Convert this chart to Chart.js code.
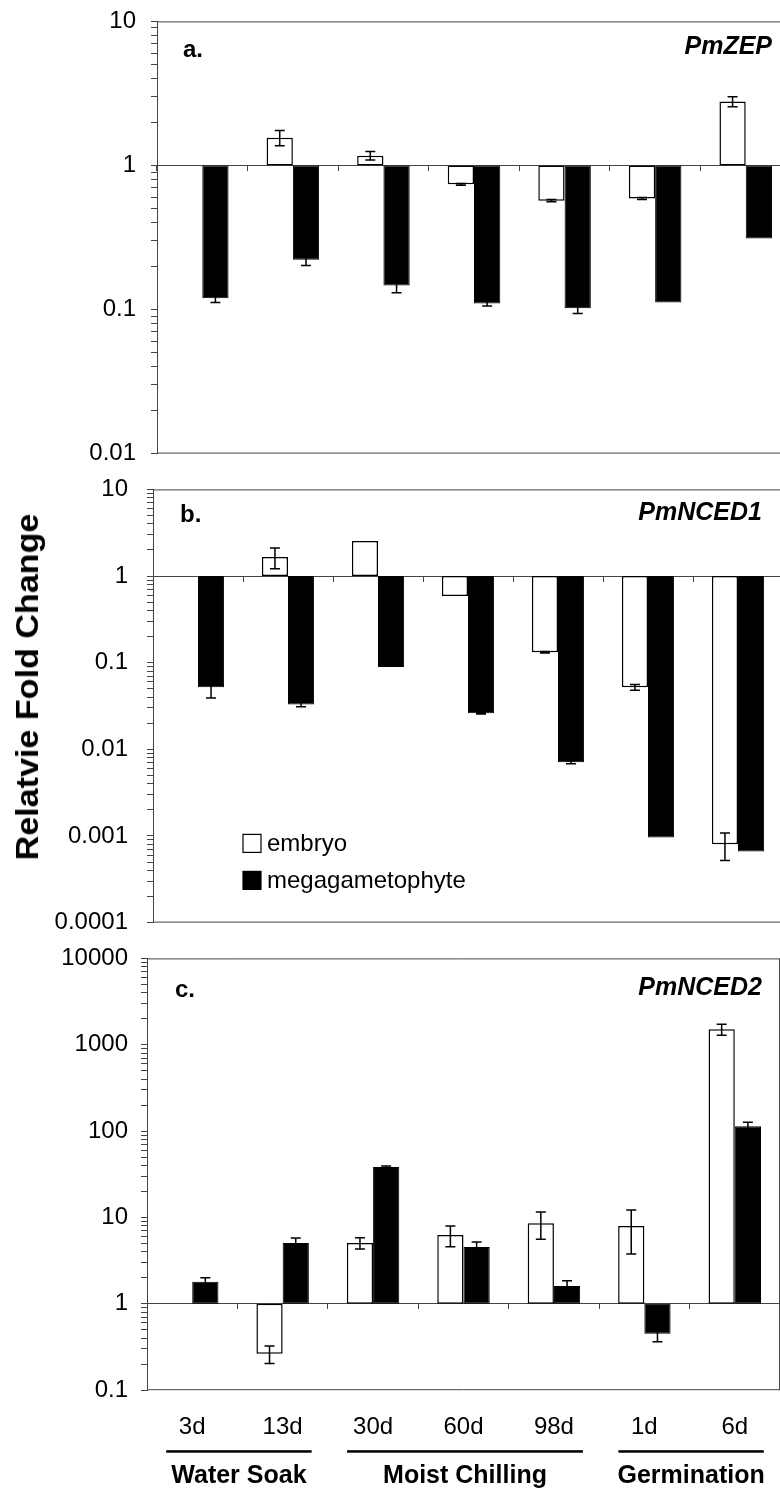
<!DOCTYPE html>
<html>
<head>
<meta charset="utf-8">
<script src="https://cdn.jsdelivr.net/npm/chart.js@4.4.0/dist/chart.umd.min.js"></script>
<style>
  html, body { margin: 0; padding: 0; background: #fff; overflow: hidden; }
  body { width: 780px; height: 1491px; position: relative; }
  canvas { position: absolute; left: 0; }
  #ytitle {
    position: absolute; left: 28px; top: 687px; white-space: nowrap; color: #000;
    font: bold 31px "Liberation Sans", Arial, sans-serif;
    transform: translate(-50%, -50%) rotate(-90deg) scaleX(1.1);
  }
</style>
</head>
<body>
<canvas id="zepChart" width="800" height="491" style="top:-8px"></canvas>
<canvas id="nced1Chart" width="800" height="500" style="top:456px"></canvas>
<canvas id="nced2Chart" width="790" height="560" style="top:931px"></canvas>
<div id="ytitle">Relatvie Fold Change</div>
<script>
const categories = ['3d', '13d', '30d', '60d', '98d', '1d', '6d'];
const groupNames = ['Water Soak', 'Moist Chilling', 'Germination'];
const groupFirst = [0, 2, 5];
const groupLast = [1, 4, 6];

// major ticks of each panel (decades)
const zepTicks = [0.01, 0.1, 1, 10];
const nced1Ticks = [0.0001, 0.001, 0.01, 0.1, 1, 10];
const nced2Ticks = [0.1, 1, 10, 100, 1000, 10000];

// a. PmZEP
const zepEmbryo = [1.0, 1.56, 1.17, 0.74, 0.57, 0.59, 2.78];
const zepEmbryoErr = [0, 0.19, 0.08, 0.01, 0.01, 0.01, 0.22];
const zepMega = [0.12, 0.222, 0.147, 0.110, 0.102, 0.112, 0.311];
const zepMegaErr = [0.008, 0.02, 0.016, 0.004, 0.008, 0, 0];

// b. PmNCED1
const nced1Embryo = [1.0, 1.66, 2.54, 0.587, 0.132, 0.052, 0.0008];
const nced1EmbryoErr = [0, 0.45, 0, 0, 0.003, 0.004, 0.00028];
const nced1Mega = [0.052, 0.033, 0.089, 0.026, 0.0071, 0.00096, 0.00066];
const nced1MegaErr = [0.013, 0.002, 0, 0.0005, 0.0003, 0, 0];

// c. PmNCED2
const nced2Embryo = [1.0, 0.264, 5.07, 6.28, 8.6, 7.98, 1510];
const nced2EmbryoErr = [0, 0.06, 0.75, 1.7, 3.0, 4.2, 220];
const nced2Mega = [1.8, 5.07, 38.4, 4.56, 1.61, 0.45, 114];
const nced2MegaErr = [0.2, 0.7, 1.0, 0.65, 0.24, 0.085, 13];

const fontFamily = '"Liberation Sans", Arial, sans-serif';
const axisColor = '#444';

const errorBars = {
  id: 'errorBars',
  afterDatasetsDraw(chart) {
    const ctx = chart.ctx;
    const y = chart.scales.y;
    ctx.save();
    ctx.strokeStyle = '#000';
    ctx.lineWidth = 1.5;
    chart.data.datasets.forEach((ds, i) => {
      const meta = chart.getDatasetMeta(i);
      meta.data.forEach((bar, j) => {
        const err = ds.errors[j];
        if (!err) return;
        const v = ds.data[j][1];
        const yTop = y.getPixelForValue(v + err);
        const yBot = y.getPixelForValue(v - err);
        ctx.beginPath();
        ctx.moveTo(bar.x, yTop); ctx.lineTo(bar.x, yBot);
        ctx.moveTo(bar.x - 5, yTop); ctx.lineTo(bar.x + 5, yTop);
        ctx.moveTo(bar.x - 5, yBot); ctx.lineTo(bar.x + 5, yBot);
        ctx.stroke();
      });
    });
    ctx.restore();
  }
};

const frame = {
  id: 'frame',
  afterDraw(chart, args, opts) {
    const ctx = chart.ctx, a = chart.chartArea;
    ctx.save();
    ctx.strokeStyle = axisColor;
    ctx.lineWidth = 1;
    ctx.beginPath();
    ctx.moveTo(a.left, a.top + 0.5); ctx.lineTo(a.right, a.top + 0.5);
    ctx.moveTo(a.left, a.bottom - 0.5); ctx.lineTo(a.right, a.bottom - 0.5);
    if (opts.right) { ctx.moveTo(a.right - 0.5, a.top); ctx.lineTo(a.right - 0.5, a.bottom); }
    ctx.stroke();
    ctx.restore();
  }
};

const panelText = {
  id: 'panelText',
  afterDraw(chart, args, opts) {
    const ctx = chart.ctx, a = chart.chartArea;
    ctx.save();
    ctx.fillStyle = '#000';
    ctx.textBaseline = 'middle';
    ctx.font = 'bold 24px ' + fontFamily;
    ctx.textAlign = 'left';
    ctx.fillText(opts.letter, a.left + opts.letterDx, a.top + opts.letterDy);
    ctx.font = 'italic bold 25px ' + fontFamily;
    ctx.textAlign = 'right';
    ctx.fillText(opts.gene, a.right - opts.geneDx, a.top + opts.geneDy);
    ctx.restore();
  }
};

const boxLegend = {
  id: 'boxLegend',
  afterDraw(chart, args, opts) {
    if (!opts.show) return;
    const ctx = chart.ctx, a = chart.chartArea;
    ctx.save();
    ctx.font = '24px ' + fontFamily;
    ctx.textBaseline = 'middle';
    ctx.textAlign = 'left';
    chart.data.datasets.forEach((ds, i) => {
      const x = a.left + opts.dx;
      const y = a.top + opts.dy + i * opts.rowGap;
      ctx.fillStyle = ds.backgroundColor;
      ctx.fillRect(x, y - 9, 18, 18);
      ctx.strokeStyle = '#000';
      ctx.lineWidth = 1.2;
      ctx.strokeRect(x, y - 9, 18, 18);
      ctx.fillStyle = '#000';
      ctx.fillText(ds.label, x + 24, y + 1);
    });
    ctx.restore();
  }
};

const groups = {
  id: 'groups',
  afterDraw(chart, args, opts) {
    if (!opts.show) return;
    const ctx = chart.ctx, a = chart.chartArea, x = chart.scales.x;
    ctx.save();
    ctx.fillStyle = '#000';
    ctx.font = 'bold 25px ' + fontFamily;
    ctx.textAlign = 'center';
    ctx.textBaseline = 'middle';
    groupNames.forEach((name, g) => {
      const x0 = x.getPixelForValue(groupFirst[g]) - 26;
      const x1 = x.getPixelForValue(groupLast[g]) + 29;
      ctx.fillRect(x0, a.bottom + 60, x1 - x0, 2.5);
      ctx.fillText(name, (x0 + x1) / 2, a.bottom + 86);
    });
    ctx.restore();
  }
};

function makeChart(id, cfg) {
  const ctx = document.getElementById(id).getContext('2d');
  const scales = {
    x: {
      type: 'category',
      position: { y: 1 },
      offset: true,
      grid: { offset: true, drawOnChartArea: false, tickLength: 5, color: axisColor },
      border: { display: true, color: axisColor, width: 1 },
      ticks: { display: false }
    },
    y: {
      type: 'logarithmic',
      min: cfg.ticks[0],
      max: cfg.ticks[cfg.ticks.length - 1],
      afterBuildTicks(scale) {
        const out = [];
        cfg.ticks.forEach((m, i) => {
          out.push({ value: m });
          if (i < cfg.ticks.length - 1) {
            for (let k = 2; k < 10; k++) out.push({ value: m * k });
          }
        });
        scale.ticks = out;
      },
      afterFit(scale) { scale.width = cfg.axisWidth; },
      ticks: {
        autoSkip: false,
        padding: cfg.labelPad,
        color: '#000',
        font: { family: fontFamily, size: 24 },
        callback: (v) => cfg.ticks.includes(v) ? String(v) : ''
      },
      grid: { drawOnChartArea: false, tickLength: 6, color: axisColor },
      border: { display: true, color: axisColor, width: 1 }
    }
  };
  if (cfg.bottomLabels) {
    scales.x2 = {
      type: 'category',
      labels: categories,
      position: 'bottom',
      offset: true,
      grid: { display: false, drawTicks: false, tickLength: 0 },
      border: { display: false },
      ticks: { padding: 23, autoSkip: false, maxRotation: 0, color: '#000', font: { family: fontFamily, size: 24 } }
    };
  }
  return new Chart(ctx, {
    type: 'bar',
    data: {
      labels: categories,
      datasets: [
        {
          label: 'embryo',
          data: cfg.embryo.map(v => [1, v]),
          errors: cfg.embryoErr,
          backgroundColor: '#fff',
          borderColor: '#000',
          borderWidth: 1.5,
          borderSkipped: false,
          categoryPercentage: 0.58,
          barPercentage: 1
        },
        {
          label: 'megagametophyte',
          data: cfg.mega.map(v => [1, v]),
          errors: cfg.megaErr,
          backgroundColor: '#000',
          borderColor: '#000',
          borderWidth: 1,
          borderSkipped: false,
          categoryPercentage: 0.58,
          barPercentage: 1
        }
      ]
    },
    options: {
      responsive: false,
      animation: false,
      devicePixelRatio: 1,
      layout: { padding: cfg.padding },
      scales: scales,
      plugins: {
        legend: { display: false },
        tooltip: { enabled: false },
        frame: { right: !!cfg.rightBorder },
        panelText: cfg.text,
        boxLegend: { show: !!cfg.legend, dx: 90, dy: 354, rowGap: 37 },
        groups: { show: !!cfg.bottomLabels }
      }
    },
    plugins: [errorBars, frame, panelText, boxLegend, groups]
  });
}

// top/bottom of each plot area is set by the y tick label half height + tick padding
makeChart('zepChart', {
  ticks: zepTicks, embryo: zepEmbryo, embryoErr: zepEmbryoErr, mega: zepMega, megaErr: zepMegaErr,
  axisWidth: 157, labelPad: 15,
  padding: { top: 0, bottom: 0, left: 0, right: 9 },
  text: { letter: 'a.', gene: 'PmZEP', letterDx: 26, letterDy: 29, geneDx: 19, geneDy: 26 }
});

makeChart('nced1Chart', {
  ticks: nced1Ticks, embryo: nced1Embryo, embryoErr: nced1EmbryoErr, mega: nced1Mega, megaErr: nced1MegaErr,
  axisWidth: 153, labelPad: 19, legend: true,
  padding: { top: 0, bottom: 0, left: 0, right: 17 },
  text: { letter: 'b.', gene: 'PmNCED1', letterDx: 27, letterDy: 26, geneDx: 21, geneDy: 24 }
});

makeChart('nced2Chart', {
  ticks: nced2Ticks, embryo: nced2Embryo, embryoErr: nced2EmbryoErr, mega: nced2Mega, megaErr: nced2MegaErr,
  axisWidth: 147, labelPad: 13, bottomLabels: true, rightBorder: true,
  padding: { top: 0, bottom: 26, left: 0, right: 10 },
  text: { letter: 'c.', gene: 'PmNCED2', letterDx: 28, letterDy: 32, geneDx: 18, geneDy: 30 }
});
</script>
</body>
</html>
